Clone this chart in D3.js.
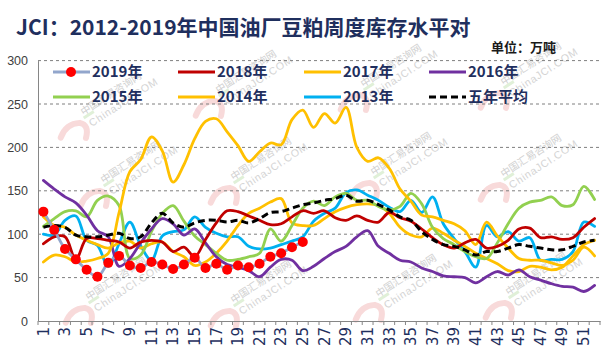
<!DOCTYPE html>
<html>
<head>
<meta charset="utf-8">
<script src="https://cdn.jsdelivr.net/npm/d3@7"></script>
<style>
  html, body { margin: 0; padding: 0; background: #fff; }
  svg { display: block; }
</style>
</head>
<body>
<div id="chart"></div>
<script>
// ---------------- DATA ----------------
const weeks = [1,2,3,4,5,6,7,8,9,10,11,12,13,14,15,16,17,18,19,20,21,22,23,24,25,26,
               27,28,29,30,31,32,33,34,35,36,37,38,39,40,41,42,43,44,45,46,47,48,49,50,51,52];
const yTicks = [0, 50, 100, 150, 200, 250, 300];
const xTickLabels = [1,3,5,7,9,11,13,15,17,19,21,23,25,27,29,31,33,35,37,39,41,43,45,47,49,51];

const v2019 = [126,105,83,71,59,51,67,75,64,61,68,65,60,65,73,61,66,59,64,62,66,74,78,85,91];
const v2018 = [89,97,97,71,95,95,93,91,84,91,93,91,80,85,74,94,113,127,126,121,116,111,112,120,127,124,
               127,119,116,121,116,114,125,119,115,106,96,88,84,90,94,84,86,93,106,107,96,97,94,96,108,118];
const v2017 = [68,76,74,68,69,72,78,125,172,186,212,196,160,180,210,230,233,218,202,184,195,205,203,232,243,223,
               239,228,246,200,184,188,176,152,138,122,120,116,112,104,88,114,98,84,72,70,70,67,64,70,85,75];
const v2016 = [162,152,143,136,122,104,97,63,72,90,106,118,112,99,106,90,74,65,62,58,51,62,71,70,58,63,
               72,80,86,97,104,86,78,70,68,61,57,52,51,50,44,51,57,53,59,51,47,43,40,39,34,41];
const v2015 = [109,118,126,127,120,139,144,133,72,76,103,124,133,115,98,88,78,70,71,74,78,106,92,110,130,138,
               133,143,147,139,139,132,128,132,147,135,108,95,88,80,74,72,90,112,130,137,139,143,133,134,155,140];
const v2014 = [120,110,108,99,93,88,84,90,92,84,89,91,80,74,64,68,78,92,110,124,130,137,141,113,110,110,
               118,126,131,134,135,133,124,108,99,97,107,101,93,86,78,72,66,58,57,63,62,59,62,75,88,93];
const v2013 = [100,99,116,121,93,87,63,89,114,87,70,98,103,105,120,108,101,97,97,86,83,84,88,92,97,115,
               124,130,148,151,145,139,131,126,139,125,143,112,95,80,62,110,97,103,92,96,70,71,71,80,114,109];
const vAvg  = [108,110,108,99,97,97,99,101,95,97,113,124,113,108,113,116,116,114,116,113,118,125,126,130,134,136,
               139,141,145,138,139,134,128,120,116,103,94,88,86,82,76,80,80,84,88,86,84,82,82,86,91,93];

const seriesNames = ["2019年","2018年","2017年","2016年","2015年","2014年","2013年","五年平均"];
const seriesValues = [v2019, v2018, v2017, v2016, v2015, v2014, v2013, vAvg];
const seriesColors = ["#92A6CC","#C00000","#FFC000","#7030A0","#92D050","#FFC000","#00B0F0","#000000"];

const titleText = "JCI：2012-2019年中国油厂豆粕周度库存水平对";
const unitText = "单位：万吨";

// ---------------- LAYOUT ----------------
const W = 608, H = 357;
const plot = {left: 38, right: 600, top: 60.6, bottom: 321};
const navy = "#1F2F5E";

const svg = d3.select("#chart").append("svg")
  .attr("width", W).attr("height", H)
  .attr("viewBox", `0 0 ${W} ${H}`);

svg.append("rect").attr("width", W).attr("height", H).attr("fill", "#fff");

const x = d3.scaleBand().domain(weeks).range([plot.left, plot.right]).padding(0);
const xc = w => x(w) + x.bandwidth() / 2;
const y = d3.scaleLinear().domain([0, 300]).range([plot.bottom, plot.top]);

// watermark
const wm = svg.append("g").attr("class", "watermark");
const wmSpots = [[135,168],[265,165],[405,160],[535,162],[120,285],[265,288],[410,282],[540,280],[250,78],[395,72],[535,70],[115,100]];
wmSpots.forEach(([cx, cy]) => {
  const g = wm.append("g").attr("transform", `translate(${cx},${cy}) rotate(-33)`);
  g.append("text").attr("x", 0).attr("y", -4).attr("text-anchor", "middle")
    .attr("font-family", "Noto Sans CJK SC").attr("font-size", 10).attr("fill", "#d0d0d0")
    .text("中国汇易咨询网");
  g.append("text").attr("x", 6).attr("y", 10).attr("text-anchor", "middle")
    .attr("font-family", "Liberation Sans, Arial").attr("font-size", 10.5).attr("fill", "#d4d4d4")
    .attr("letter-spacing", 0.8)
    .text("ChinaJCI.COM");
  g.append("path").attr("d", "M-66,2 q12,-9 24,-2 q7,7 -3,16")
    .attr("fill", "none").attr("stroke", "#f8dada").attr("stroke-width", 6).attr("stroke-linecap", "round");
  g.append("path").attr("d", "M-36,-2 l12,0")
    .attr("fill", "none").attr("stroke", "#e0f0d8").attr("stroke-width", 3);
});

// gridlines
svg.append("g")
  .selectAll("line").data(yTicks.filter(d => d > 0)).join("line")
  .attr("x1", plot.left).attr("x2", plot.right)
  .attr("y1", d => y(d)).attr("y2", d => y(d))
  .attr("stroke", "#7f7f7f").attr("stroke-width", 1).attr("stroke-dasharray", "3,3");

// y axis
const yAxis = svg.append("g").attr("transform", `translate(${plot.left},0)`)
  .call(d3.axisLeft(y).tickValues(yTicks).tickSize(0).tickPadding(10));
yAxis.select(".domain").attr("stroke", "#868686");
yAxis.selectAll("text").attr("font-family", "Liberation Sans, Arial").attr("font-size", 12.5).attr("fill", "#404040");

// x axis
const xAxis = svg.append("g").attr("transform", `translate(0,${plot.bottom})`)
  .call(d3.axisBottom(x).tickValues(xTickLabels).tickSize(0).tickPadding(0));
xAxis.select(".domain").attr("stroke", "#868686");
xAxis.selectAll(".tick text")
  .attr("font-family", "DejaVu Sans, Verdana").attr("font-size", 15).attr("fill", navy)
  .attr("text-anchor", "end").attr("dy", "0.35em")
  .attr("transform", "translate(0,6) rotate(-90)")
  .attr("x", 0).attr("y", 0);
// ticks between categories
svg.append("g").selectAll("line").data(weeks.concat([53])).join("line")
  .attr("x1", d => d <= 52 ? x(d) : plot.right).attr("x2", d => d <= 52 ? x(d) : plot.right)
  .attr("y1", plot.bottom).attr("y2", plot.bottom + 4)
  .attr("stroke", "#868686");

// lines
const line = d3.line().x((d, i) => xc(weeks[i])).y(d => y(d)).curve(d3.curveCatmullRom.alpha(0.5));
const order = [6, 5, 4, 3, 2, 1, 7, 0];
const lg = svg.append("g");
order.forEach(si => {
  const p = lg.append("path").datum(seriesValues[si])
    .attr("d", line).attr("fill", "none")
    .attr("stroke", seriesColors[si]).attr("stroke-width", si === 7 ? 3 : 2.8)
    .attr("stroke-linejoin", "round").attr("stroke-linecap", "round");
  if (si === 7) p.attr("stroke-dasharray", "7,4").attr("stroke-linecap", "butt");
});
// 2019 markers
lg.append("g").selectAll("circle").data(v2019).join("circle")
  .attr("cx", (d, i) => xc(weeks[i])).attr("cy", d => y(d)).attr("r", 5)
  .attr("fill", "#FF0000");

// legend
const legCols = [53, 178, 304, 429];
const legRows = [72, 97];
const legend = svg.append("g");
seriesNames.forEach((name, i) => {
  const lx = legCols[i % 4], ly = legRows[Math.floor(i / 4)];
  const g = legend.append("g").attr("transform", `translate(${lx},${ly})`);
  const ln = g.append("line").attr("x1", 0).attr("x2", 37).attr("y1", 0).attr("y2", 0)
    .attr("stroke", seriesColors[i]).attr("stroke-width", 3);
  if (i === 7) ln.attr("stroke-dasharray", "7,4");
  if (i === 0) g.append("circle").attr("cx", 18).attr("cy", 0).attr("r", 5).attr("fill", "#FF0000");
  g.append("text").attr("x", 39).attr("y", 0).attr("dy", "0.36em")
    .attr("font-family", "Noto Sans CJK SC").attr("font-weight", "bold").attr("font-size", 15)
    .attr("fill", navy).text(name);
});

// title & unit
svg.append("text").attr("x", 16).attr("y", 35)
  .attr("font-family", "Noto Sans CJK SC").attr("font-weight", "bold").attr("font-size", 21)
  .attr("fill", navy).text(titleText);
svg.append("text").attr("x", 491).attr("y", 52)
  .attr("font-family", "Noto Sans CJK SC").attr("font-weight", "bold").attr("font-size", 13)
  .attr("fill", "#1a1a1a").text(unitText);
</script>
</body>
</html>
